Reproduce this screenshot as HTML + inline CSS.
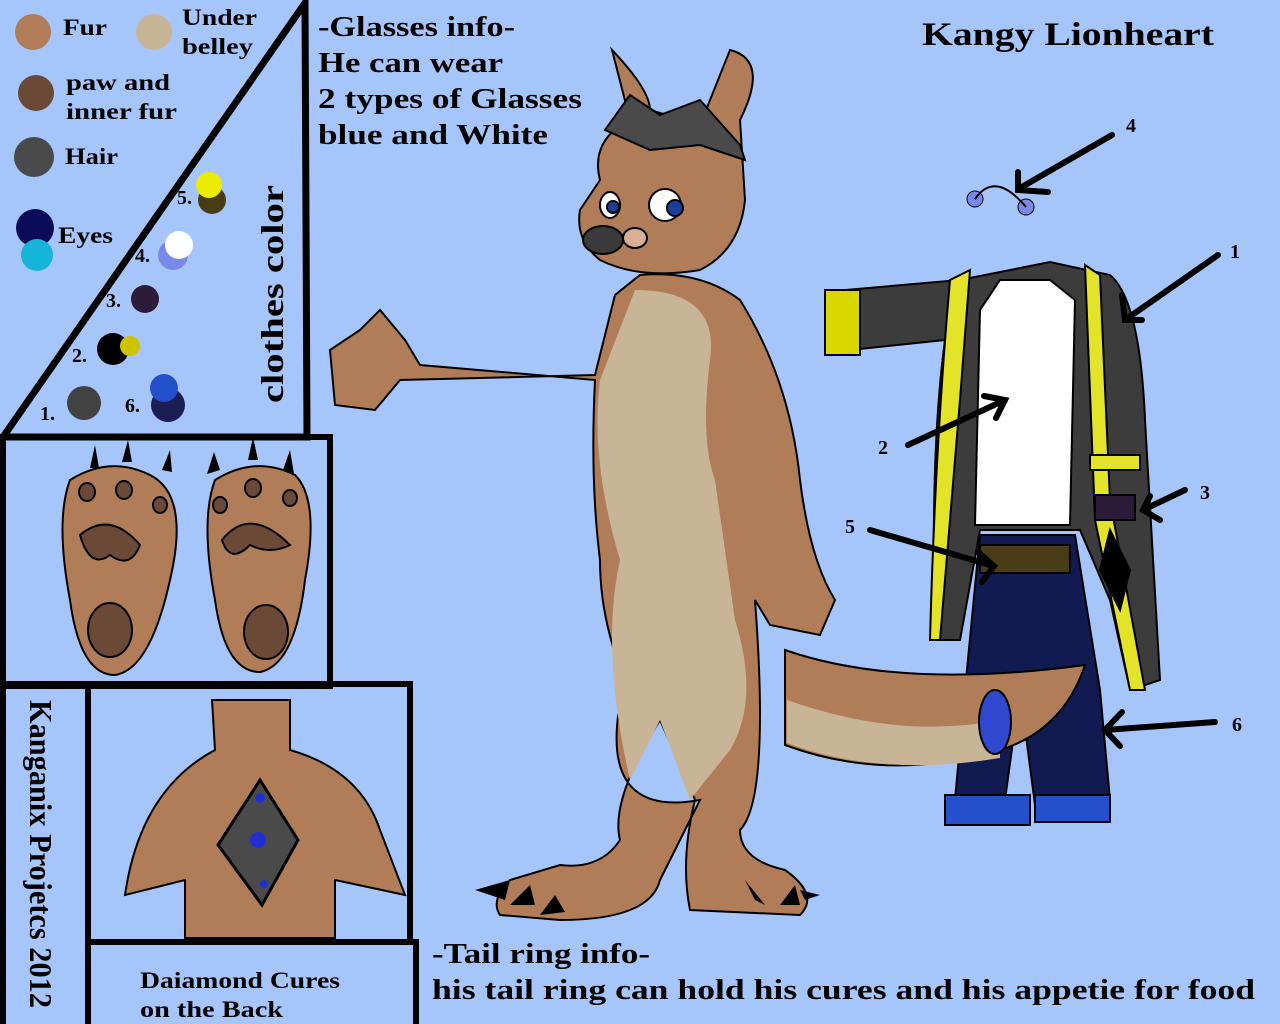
<!DOCTYPE html>
<html><head><style>
html,body{margin:0;padding:0;background:#a6c6fb;}
svg{display:block}
text{font-family:"Liberation Serif",serif;font-weight:bold;fill:#000}
</style></head><body>
<svg width="1280" height="1024" viewBox="0 0 1280 1024" xmlns="http://www.w3.org/2000/svg">
<rect width="1280" height="1024" fill="#a6c6fb"/>
<!-- palette -->
<circle cx="33" cy="32" r="18" fill="#b07d58"/>
<circle cx="154" cy="32" r="18" fill="#c8b497"/>
<circle cx="36" cy="93" r="18" fill="#6a4a37"/>
<circle cx="34" cy="157" r="20" fill="#4a4a4a"/>
<circle cx="35" cy="228" r="19" fill="#0b0b5a"/>
<circle cx="37" cy="255" r="16" fill="#16b4d8"/>
<text x="63" y="35" font-size="23" textLength="44" lengthAdjust="spacingAndGlyphs">Fur</text>
<text x="182" y="25" font-size="23" textLength="75" lengthAdjust="spacingAndGlyphs">Under</text>
<text x="182" y="54" font-size="23" textLength="71" lengthAdjust="spacingAndGlyphs">belley</text>
<text x="66" y="90" font-size="23" textLength="104" lengthAdjust="spacingAndGlyphs">paw and</text>
<text x="66" y="119" font-size="23" textLength="111" lengthAdjust="spacingAndGlyphs">inner fur</text>
<text x="65" y="164" font-size="23" textLength="53" lengthAdjust="spacingAndGlyphs">Hair</text>
<text x="58" y="243" font-size="23" textLength="55" lengthAdjust="spacingAndGlyphs">Eyes</text>
<!-- triangle -->
<path d="M3,437 L305,3 L307,437 Z" fill="none" stroke="#000" stroke-width="7"/>
<circle cx="212" cy="200" r="14" fill="#473c15"/><circle cx="209" cy="185" r="13" fill="#ecec00"/>
<circle cx="173" cy="255" r="15" fill="#7889e8"/><circle cx="179" cy="245" r="14" fill="#fff"/>
<circle cx="145" cy="299" r="14" fill="#2c1c3a"/>
<circle cx="113" cy="349" r="16" fill="#000"/><circle cx="130" cy="346" r="10" fill="#cdc300"/>
<circle cx="84" cy="403" r="17" fill="#424242"/>
<circle cx="168" cy="405" r="17" fill="#1a1e54"/><circle cx="164" cy="388" r="14" fill="#2550cc"/>
<text x="177" y="204" font-size="20">5.</text>
<text x="135" y="262" font-size="20">4.</text>
<text x="106" y="307" font-size="20">3.</text>
<text x="72" y="362" font-size="20">2.</text>
<text x="40" y="420" font-size="20">1.</text>
<text x="125" y="412" font-size="20">6.</text>
<text transform="translate(283,403) rotate(-90)" font-size="32" textLength="218" lengthAdjust="spacingAndGlyphs">clothes color</text>
<!-- paw box -->
<rect x="3" y="437" width="327" height="249" fill="none" stroke="#000" stroke-width="6"/>
<g stroke="#000" stroke-width="2">
<path d="M70,480 Q110,455 150,475 Q190,495 170,580 Q150,670 115,675 Q80,675 70,600 Q55,520 70,480Z" fill="#b07d58"/>
<path d="M215,480 Q255,455 295,475 Q320,500 305,580 Q295,665 260,672 Q225,672 215,600 Q200,520 215,480Z" fill="#b07d58"/>
<ellipse cx="110" cy="630" rx="22" ry="27" fill="#6a4a37"/><ellipse cx="266" cy="632" rx="22" ry="27" fill="#6a4a37"/>
<path d="M80,535 Q110,510 140,545 Q130,570 110,555 Q90,570 80,535Z" fill="#6a4a37"/>
<path d="M222,540 Q250,505 290,545 Q270,555 250,545 Q230,565 222,540Z" fill="#6a4a37"/>
<ellipse cx="87" cy="492" rx="8" ry="9" fill="#6a4a37"/><ellipse cx="124" cy="490" rx="8" ry="9" fill="#6a4a37"/><ellipse cx="160" cy="505" rx="7" ry="8" fill="#6a4a37"/>
<ellipse cx="220" cy="505" rx="7" ry="8" fill="#6a4a37"/><ellipse cx="253" cy="488" rx="8" ry="9" fill="#6a4a37"/><ellipse cx="290" cy="498" rx="7" ry="8" fill="#6a4a37"/>
</g>
<path d="M90,468 L95,445 L99,468Z M122,462 L128,440 L132,462Z M162,470 L170,450 L172,472Z M207,474 L214,452 L220,470Z M248,460 L253,437 L258,460Z M283,470 L290,450 L294,474Z"/>
<!-- back box -->
<rect x="3" y="684" width="85" height="345" fill="none" stroke="#000" stroke-width="6"/>
<rect x="88" y="684" width="322" height="258" fill="none" stroke="#000" stroke-width="6"/>
<rect x="88" y="942" width="328" height="90" fill="none" stroke="#000" stroke-width="6"/>
<path d="M212,700 L290,700 L290,750 Q360,770 380,830 L405,895 L335,880 L335,938 L185,938 L185,880 L125,895 Q140,790 215,750Z" fill="#b07d58" stroke="#000" stroke-width="2"/>
<path d="M260,780 L298,840 L262,905 L218,845Z" fill="#4a4a4a" stroke="#000" stroke-width="3"/>
<circle cx="260" cy="798" r="5" fill="#2030d0"/><circle cx="258" cy="840" r="8" fill="#2030d0"/><circle cx="264" cy="884" r="4" fill="#2030d0"/>
<text x="140" y="988" font-size="23" textLength="200" lengthAdjust="spacingAndGlyphs">Daiamond Cures</text>
<text x="140" y="1017" font-size="23" textLength="143" lengthAdjust="spacingAndGlyphs">on the Back</text>
<text transform="translate(30,700) rotate(90)" font-size="32" textLength="308" lengthAdjust="spacingAndGlyphs">Kanganix Projetcs 2012</text>
<!-- text -->
<text x="318" y="36" font-size="28" textLength="197" lengthAdjust="spacingAndGlyphs">-Glasses info-</text>
<text x="318" y="72" font-size="28" textLength="185" lengthAdjust="spacingAndGlyphs">He can wear</text>
<text x="318" y="108" font-size="28" textLength="264" lengthAdjust="spacingAndGlyphs">2 types of Glasses</text>
<text x="318" y="144" font-size="28" textLength="230" lengthAdjust="spacingAndGlyphs">blue and White</text>
<text x="922" y="45" font-size="33" textLength="292" lengthAdjust="spacingAndGlyphs">Kangy Lionheart</text>
<text x="432" y="963" font-size="28" textLength="218" lengthAdjust="spacingAndGlyphs">-Tail ring info-</text>
<text x="432" y="999" font-size="28" textLength="823" lengthAdjust="spacingAndGlyphs">his tail ring can hold his cures and his appetie for food</text>
<!-- kangaroo -->
<g stroke="#000" stroke-width="2">
<path d="M640,275 Q700,270 740,300 Q790,380 800,480 Q810,560 835,600 L820,635 L770,625 L755,600 Q770,800 740,830 Q740,860 785,870 Q820,895 800,915 L690,910 Q680,860 695,800 L660,720 Q610,800 620,840 Q600,870 560,865 L510,880 Q490,900 500,915 L560,920 Q650,920 660,880 L700,800 Q590,820 625,680 Q600,620 600,560 Q590,480 595,380 L420,365 L405,340 L380,310 L360,330 L330,350 L335,405 L375,410 L400,380 L595,375 L615,295Z" fill="#b07d58"/>
<path d="M635,290 Q720,290 710,360 Q700,440 715,480 L735,620 Q760,700 730,750 L690,800 L660,720 L630,780 Q600,650 620,560 Q590,460 600,380Z" fill="#c8b497" stroke="none"/>
<path d="M600,180 Q590,140 630,120 L612,50 Q650,90 650,110 L700,125 L730,50 Q770,60 740,120 L745,200 Q740,250 700,270 Q640,280 600,260 Q575,240 580,210Z" fill="#b07d58"/>
<path d="M605,130 L630,95 L660,115 L700,100 L740,145 L745,160 L700,145 L650,150Z" fill="#4a4a4a"/>
<ellipse cx="603" cy="240" rx="20" ry="14" fill="#3a3a3a"/>
<ellipse cx="635" cy="238" rx="12" ry="10" fill="#d9b094"/>
<ellipse cx="610" cy="205" rx="10" ry="13" fill="#fff"/><ellipse cx="665" cy="205" rx="16" ry="16" fill="#fff"/>
<circle cx="613" cy="207" r="6" fill="#1a3e9a"/><circle cx="675" cy="208" r="8" fill="#1a3e9a"/>
</g>
<path d="M475,890 L510,880 L505,900Z M510,905 L530,885 L535,905Z M540,915 L555,895 L565,912Z M745,880 L755,900 L765,905Z M780,905 L795,885 L800,905Z M800,890 L820,895 L805,900Z"/>
<!-- clothes -->
<g stroke="#000" stroke-width="2">
<path d="M960,280 L1050,262 L1110,275 Q1140,300 1145,420 L1160,680 L1130,690 L1110,600 L1080,530 L980,530 L960,640 L935,640 Q930,450 945,340 L850,350 L845,290Z" fill="#3c3c3c"/>
<path d="M825,290 L860,290 L860,355 L825,355Z" fill="#d8d800"/>
<path d="M950,280 L970,270 L960,400 L940,640 L930,640 Q935,450 950,280Z M1085,265 L1100,275 L1110,500 L1145,690 L1130,690 L1095,520 Z" fill="#e3e32a"/>
<path d="M1000,280 L1050,280 L1075,300 L1070,525 L975,525 L980,310Z" fill="#fff"/>
<path d="M980,535 L1075,535 L1100,690 L1110,800 L1035,805 L1020,690 L1005,800 L955,800 L965,690Z" fill="#121a52"/>
<rect x="980" y="545" width="90" height="28" fill="#473c15"/>
<path d="M945,795 L1030,795 L1030,825 L945,825Z M1035,795 L1110,795 L1110,822 L1035,822Z" fill="#2550cc"/>
<path d="M1090,455 L1140,455 L1140,470 L1090,470Z" fill="#e3e32a"/>
<path d="M1110,530 L1130,570 L1120,610 L1100,570Z" fill="#000"/>
<path d="M1095,495 L1135,495 L1135,520 L1095,520Z" fill="#2c1c3a"/>
</g>
<!-- tail in front of pants -->
<g stroke="#000" stroke-width="2">
<path d="M785,650 Q900,690 1085,665 Q1060,740 980,755 Q880,780 785,745Z" fill="#b07d58"/>
<path d="M787,700 Q900,740 1000,720 L1000,758 Q880,778 787,743Z" fill="#c8b497" stroke="none"/>
<ellipse cx="995" cy="722" rx="16" ry="32" fill="#3048d0"/>
</g>
<circle cx="975" cy="199" r="8" fill="#7889e8" stroke="#000"/><circle cx="1026" cy="207" r="8" fill="#7889e8" stroke="#000"/>
<path d="M975,199 Q995,170 1026,207" fill="none" stroke="#000" stroke-width="2"/>
<g stroke="#000" stroke-width="6" fill="none" stroke-linecap="round">
<path d="M1112,135 L1020,188 M1218,255 L1125,320 M908,445 L1005,400 M870,530 L990,565 M1185,490 L1143,510 M1215,722 L1105,730"/>
<path d="M1018,172 L1018,190 L1048,192 M1122,295 L1125,320 L1142,320 M984,396 L1005,400 L996,418 M978,552 L994,566 L982,582 M1150,496 L1143,510 L1160,520 M1122,712 L1105,730 L1120,746"/>
</g>
<text x="1126" y="132" font-size="20">4</text>
<text x="1230" y="258" font-size="20">1</text>
<text x="878" y="454" font-size="20">2</text>
<text x="1200" y="499" font-size="20">3</text>
<text x="845" y="533" font-size="20">5</text>
<text x="1232" y="731" font-size="20">6</text>
</svg>
</body></html>
